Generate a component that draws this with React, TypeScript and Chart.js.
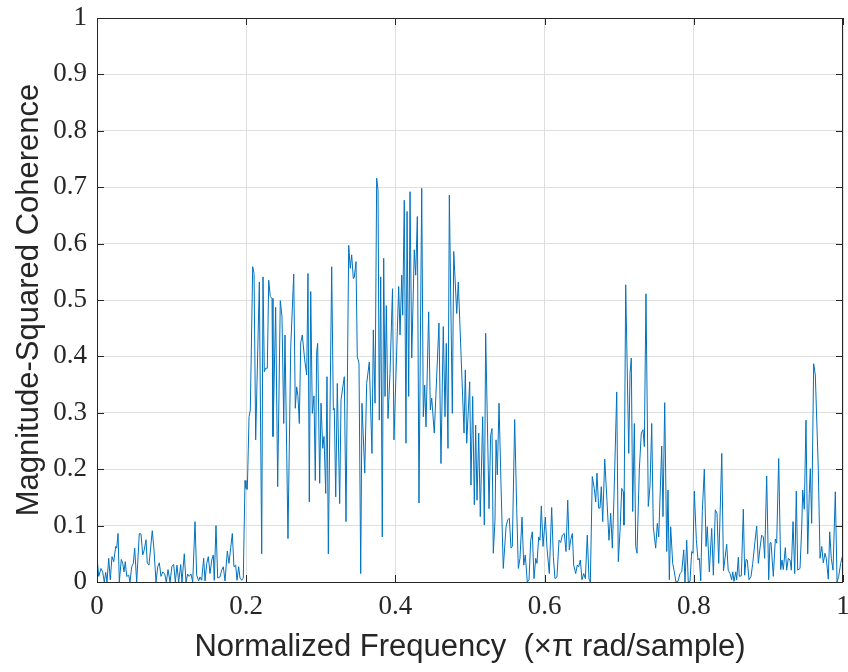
import React, { useEffect, useRef } from "react";
import { Chart, registerables } from "chart.js";

Chart.register(...registerables);

// Normalized frequency (x pi rad/sample) of each vertex of the trace
const freq: number[] = [
  0.0000, 0.0023, 0.0054, 0.0076, 0.0098, 0.0117, 0.0134, 0.0157, 0.0178, 0.0201,
  0.0224, 0.0251, 0.0264, 0.0282, 0.0299, 0.0326, 0.0345, 0.0362, 0.0379, 0.0398,
  0.0425, 0.0442, 0.0465, 0.0487, 0.0505, 0.0532, 0.0567, 0.0590, 0.0613, 0.0634,
  0.0657, 0.0674, 0.0697, 0.0741, 0.0764, 0.0791, 0.0814, 0.0835, 0.0858, 0.0881,
  0.0908, 0.0929, 0.0952, 0.0979, 0.1005, 0.1028, 0.1050, 0.1072, 0.1095, 0.1122,
  0.1139, 0.1170, 0.1193, 0.1216, 0.1237, 0.1260, 0.1283, 0.1314, 0.1336, 0.1363,
  0.1381, 0.1403, 0.1430, 0.1448, 0.1471, 0.1492, 0.1515, 0.1538, 0.1559, 0.1572,
  0.1595, 0.1618, 0.1649, 0.1672, 0.1693, 0.1716, 0.1747, 0.1769, 0.1814, 0.1836,
  0.1859, 0.1877, 0.1899, 0.1917, 0.1940, 0.1961, 0.1984, 0.1997, 0.2015, 0.2038,
  0.2055, 0.2087, 0.2105, 0.2127, 0.2176, 0.2208, 0.2225, 0.2243, 0.2261, 0.2283,
  0.2302, 0.2323, 0.2346, 0.2359, 0.2395, 0.2422, 0.2457, 0.2480, 0.2503, 0.2520,
  0.2560, 0.2597, 0.2637, 0.2658, 0.2677, 0.2694, 0.2712, 0.2731, 0.2752, 0.2784,
  0.2811, 0.2828, 0.2846, 0.2865, 0.2886, 0.2909, 0.2926, 0.2945, 0.2958, 0.2985,
  0.3003, 0.3026, 0.3043, 0.3066, 0.3083, 0.3101, 0.3146, 0.3168, 0.3181, 0.3200,
  0.3221, 0.3253, 0.3271, 0.3315, 0.3338, 0.3374, 0.3395, 0.3414, 0.3436, 0.3449,
  0.3472, 0.3489, 0.3512, 0.3535, 0.3552, 0.3589, 0.3615, 0.3650, 0.3686, 0.3704,
  0.3727, 0.3749, 0.3767, 0.3784, 0.3803, 0.3824, 0.3843, 0.3861, 0.3878, 0.3901,
  0.3928, 0.3961, 0.3981, 0.4044, 0.4062, 0.4085, 0.4098, 0.4119, 0.4142, 0.4156,
  0.4178, 0.4196, 0.4219, 0.4253, 0.4272, 0.4294, 0.4316, 0.4353, 0.4374, 0.4393,
  0.4410, 0.4446, 0.4468, 0.4487, 0.4521, 0.4584, 0.4611, 0.4642, 0.4665, 0.4682,
  0.4705, 0.4723, 0.4763, 0.4782, 0.4822, 0.4843, 0.4920, 0.4937, 0.4956, 0.4996,
  0.5013, 0.5036, 0.5058, 0.5076, 0.5094, 0.5117, 0.5138, 0.5170, 0.5192, 0.5210,
  0.5255, 0.5277, 0.5295, 0.5312, 0.5335, 0.5349, 0.5366, 0.5389, 0.5416, 0.5446,
  0.5483, 0.5505, 0.5527, 0.5550, 0.5567, 0.5599, 0.5626, 0.5648, 0.5670, 0.5697,
  0.5720, 0.5741, 0.5768, 0.5791, 0.5814, 0.5835, 0.5858, 0.5881, 0.5898, 0.5921,
  0.5938, 0.5956, 0.5979, 0.6010, 0.6032, 0.6063, 0.6095, 0.6117, 0.6139, 0.6166,
  0.6193, 0.6216, 0.6237, 0.6264, 0.6287, 0.6310, 0.6331, 0.6350, 0.6372, 0.6390,
  0.6417, 0.6438, 0.6457, 0.6479, 0.6501, 0.6524, 0.6546, 0.6572, 0.6595, 0.6613,
  0.6639, 0.6666, 0.6685, 0.6702, 0.6725, 0.6743, 0.6760, 0.6779, 0.6806, 0.6836,
  0.6863, 0.6886, 0.6908, 0.6930, 0.6967, 0.6988, 0.7011, 0.7034, 0.7055, 0.7064,
  0.7087, 0.7128, 0.7145, 0.7162, 0.7181, 0.7203, 0.7221, 0.7239, 0.7270, 0.7296,
  0.7319, 0.7337, 0.7359, 0.7390, 0.7413, 0.7436, 0.7457, 0.7489, 0.7511, 0.7530,
  0.7570, 0.7587, 0.7610, 0.7637, 0.7654, 0.7672, 0.7690, 0.7717, 0.7735, 0.7761,
  0.7788, 0.7815, 0.7838, 0.7865, 0.7882, 0.7905, 0.7926, 0.7949, 0.7972, 0.7989,
  0.8007, 0.8034, 0.8056, 0.8074, 0.8093, 0.8114, 0.8141, 0.8164, 0.8181, 0.8208,
  0.8240, 0.8262, 0.8288, 0.8311, 0.8334, 0.8375, 0.8398, 0.8441, 0.8461, 0.8485,
  0.8508, 0.8522, 0.8539, 0.8562, 0.8575, 0.8597, 0.8610, 0.8637, 0.8664, 0.8682,
  0.8700, 0.8717, 0.8740, 0.8767, 0.8790, 0.8820, 0.8843, 0.8865, 0.8887, 0.8910,
  0.8932, 0.8950, 0.8977, 0.9004, 0.9021, 0.9035, 0.9066, 0.9093, 0.9111, 0.9138,
  0.9165, 0.9182, 0.9200, 0.9227, 0.9245, 0.9267, 0.9290, 0.9307, 0.9330, 0.9353,
  0.9374, 0.9393, 0.9424, 0.9447, 0.9460, 0.9481, 0.9504, 0.9527, 0.9548, 0.9562,
  0.9580, 0.9607, 0.9629, 0.9669, 0.9692, 0.9715, 0.9736, 0.9759, 0.9776, 0.9803,
  0.9822, 0.9843, 0.9866, 0.9897, 0.9920, 0.9942, 0.9969, 1.0000,
];

// Magnitude-squared coherence at each of those frequencies
const coherence: number[] = [
  0.045, 0.010, 0.024, 0.018, 0.000, 0.017, 0.000, 0.042, 0.004, 0.045,
  0.036, 0.063, 0.060, 0.086, 0.000, 0.040, 0.033, 0.018, 0.036, 0.010,
  0.012, 0.000, 0.027, 0.033, 0.060, 0.000, 0.086, 0.085, 0.048, 0.057,
  0.075, 0.033, 0.030, 0.091, 0.057, 0.000, 0.027, 0.034, 0.010, 0.018,
  0.014, 0.000, 0.022, 0.000, 0.028, 0.031, 0.000, 0.030, 0.000, 0.031,
  0.000, 0.050, 0.000, 0.014, 0.010, 0.014, 0.000, 0.107, 0.012, 0.002,
  0.009, 0.003, 0.042, 0.002, 0.033, 0.045, 0.015, 0.039, 0.048, 0.003,
  0.100, 0.007, 0.009, 0.021, 0.027, 0.002, 0.055, 0.033, 0.086, 0.027,
  0.030, 0.003, 0.027, 0.007, 0.003, 0.007, 0.180, 0.166, 0.164, 0.293,
  0.305, 0.559, 0.547, 0.252, 0.532, 0.050, 0.541, 0.373, 0.379, 0.379,
  0.535, 0.506, 0.503, 0.258, 0.487, 0.169, 0.499, 0.470, 0.281, 0.438,
  0.077, 0.417, 0.546, 0.308, 0.346, 0.329, 0.281, 0.424, 0.438, 0.394,
  0.367, 0.547, 0.142, 0.515, 0.299, 0.330, 0.180, 0.408, 0.423, 0.175,
  0.317, 0.237, 0.258, 0.157, 0.364, 0.050, 0.559, 0.305, 0.308, 0.151,
  0.352, 0.139, 0.323, 0.364, 0.107, 0.597, 0.556, 0.580, 0.538, 0.540,
  0.568, 0.400, 0.388, 0.015, 0.317, 0.193, 0.352, 0.390, 0.228, 0.447,
  0.317, 0.716, 0.695, 0.287, 0.541, 0.080, 0.574, 0.329, 0.490, 0.290,
  0.370, 0.520, 0.252, 0.524, 0.438, 0.544, 0.473, 0.677, 0.246, 0.657,
  0.329, 0.692, 0.397, 0.589, 0.544, 0.648, 0.140, 0.698, 0.293, 0.349,
  0.275, 0.479, 0.305, 0.326, 0.264, 0.459, 0.210, 0.453, 0.293, 0.423,
  0.237, 0.686, 0.299, 0.586, 0.476, 0.532, 0.264, 0.376, 0.246, 0.355,
  0.172, 0.329, 0.137, 0.278, 0.145, 0.264, 0.116, 0.293, 0.101, 0.441,
  0.130, 0.260, 0.272, 0.051, 0.110, 0.252, 0.190, 0.317, 0.170, 0.024,
  0.098, 0.110, 0.113, 0.060, 0.063, 0.288, 0.130, 0.024, 0.042, 0.115,
  0.030, 0.048, 0.000, 0.004, 0.074, 0.089, 0.006, 0.042, 0.033, 0.080,
  0.074, 0.135, 0.063, 0.115, 0.060, 0.015, 0.132, 0.045, 0.006, 0.009,
  0.074, 0.070, 0.083, 0.086, 0.054, 0.145, 0.057, 0.075, 0.086, 0.030,
  0.015, 0.030, 0.027, 0.039, 0.004, 0.015, 0.006, 0.083, 0.006, 0.000,
  0.187, 0.166, 0.142, 0.193, 0.131, 0.131, 0.169, 0.107, 0.218, 0.145,
  0.074, 0.122, 0.060, 0.150, 0.337, 0.036, 0.090, 0.166, 0.160, 0.101,
  0.527, 0.228, 0.370, 0.397, 0.125, 0.281, 0.063, 0.051, 0.200, 0.264,
  0.270, 0.240, 0.511, 0.134, 0.170, 0.281, 0.098, 0.060, 0.104, 0.080,
  0.241, 0.116, 0.318, 0.054, 0.163, 0.004, 0.098, 0.033, 0.021, 0.000,
  0.001, 0.015, 0.018, 0.057, 0.000, 0.074, 0.000, 0.001, 0.054, 0.051,
  0.161, 0.075, 0.039, 0.042, 0.002, 0.125, 0.200, 0.063, 0.098, 0.018,
  0.095, 0.012, 0.128, 0.122, 0.033, 0.228, 0.020, 0.067, 0.021, 0.015,
  0.004, 0.018, 0.001, 0.018, 0.004, 0.044, 0.010, 0.011, 0.129, 0.012,
  0.040, 0.039, 0.004, 0.010, 0.033, 0.072, 0.099, 0.033, 0.060, 0.083,
  0.080, 0.042, 0.188, 0.004, 0.069, 0.070, 0.010, 0.076, 0.069, 0.219,
  0.022, 0.039, 0.022, 0.061, 0.021, 0.042, 0.039, 0.021, 0.107, 0.015,
  0.161, 0.021, 0.024, 0.098, 0.163, 0.129, 0.287, 0.050, 0.157, 0.201,
  0.104, 0.387, 0.367, 0.200, 0.042, 0.063, 0.034, 0.051, 0.042, 0.005,
  0.089, 0.042, 0.021, 0.160, 0.000, 0.010, 0.033, 0.050,
];

const xTicks = [0, 0.2, 0.4, 0.6, 0.8, 1];
const xTickLabels = ["0", "0.2", "0.4", "0.6", "0.8", "1"];
const yTicks = [0, 0.1, 0.2, 0.3, 0.4, 0.5, 0.6, 0.7, 0.8, 0.9, 1];
const yTickLabels = ["0", "0.1", "0.2", "0.3", "0.4", "0.5", "0.6", "0.7", "0.8", "0.9", "1"];

const xTitle = "Normalized Frequency  (\u00d7\u03c0 rad/sample)";
const yTitle = "Magnitude-Squared Coherence";

const AXIS_COLOR = "#262626";
const GRID_COLOR = "#dfdfdf";
const LINE_COLOR = "#0072BD";
const TICK_FONT = "'Liberation Serif', 'DejaVu Serif', serif";
const TITLE_FONT = "'Liberation Sans', Arial, sans-serif";

const boxPlugin = {
  id: "matlabBox",
  afterDatasetsDraw(chart: any) {
    const { ctx, chartArea } = chart;
    const { left, right, top, bottom } = chartArea;
    const xs = chart.scales.x;
    const ys = chart.scales.y;
    const tl = 7;
    ctx.save();
    ctx.strokeStyle = AXIS_COLOR;
    ctx.lineWidth = 1;
    ctx.beginPath();
    ctx.rect(Math.round(left) + 0.5, Math.round(top) + 0.5, Math.round(right - left) - 1, Math.round(bottom - top));
    xTicks.forEach((t) => {
      const px = Math.round(xs.getPixelForValue(t)) + 0.5;
      ctx.moveTo(px, bottom);
      ctx.lineTo(px, bottom - tl);
      ctx.moveTo(px, top);
      ctx.lineTo(px, top + tl);
    });
    yTicks.forEach((t) => {
      const py = Math.round(ys.getPixelForValue(t)) + 0.5;
      ctx.moveTo(left, py);
      ctx.lineTo(left + tl, py);
      ctx.moveTo(right, py);
      ctx.lineTo(right - tl, py);
    });
    ctx.stroke();
    ctx.restore();
  },
};

export default function App() {
  const canvasRef = useRef<HTMLCanvasElement | null>(null);

  useEffect(() => {
    if (!canvasRef.current) return;
    const points = freq.map((f, i) => ({ x: f, y: coherence[i] }));
    const chart = new Chart(canvasRef.current, {
      type: "line",
      data: {
        datasets: [
          {
            data: points,
            borderColor: LINE_COLOR,
            borderWidth: 1,
            pointRadius: 0,
            tension: 0,
            fill: false,
          },
        ],
      },
      options: {
        animation: false,
        responsive: false,
        devicePixelRatio: 1,
        layout: { padding: { top: 18, right: 5, bottom: 0, left: 0 } },
        plugins: {
          legend: { display: false },
          tooltip: { enabled: false },
        },
        scales: {
          x: {
            type: "linear",
            min: 0,
            max: 1,
            afterBuildTicks: (s: any) => {
              s.ticks = xTicks.map((v) => ({ value: v }));
            },
            afterFit: (s: any) => {
              s.height = 90;
              s.paddingLeft = 0;
              s.paddingRight = 0;
            },
            grid: { color: GRID_COLOR, lineWidth: 1, drawTicks: false },
            border: { display: false },
            ticks: {
              padding: 9,
              maxRotation: 0,
              autoSkip: false,
              color: AXIS_COLOR,
              font: { family: TICK_FONT, size: 27 },
              callback: (_v: any, i: number) => xTickLabels[i],
            },
            title: {
              display: true,
              text: xTitle,
              color: AXIS_COLOR,
              font: { family: TITLE_FONT, size: 31 },
              padding: { top: 0, bottom: 6 },
            },
          },
          y: {
            type: "linear",
            min: 0,
            max: 1,
            afterBuildTicks: (s: any) => {
              s.ticks = yTicks.map((v) => ({ value: v }));
            },
            afterFit: (s: any) => {
              s.width = 97;
              s.paddingTop = 0;
              s.paddingBottom = 0;
            },
            grid: { color: GRID_COLOR, lineWidth: 1, drawTicks: false },
            border: { display: false },
            ticks: {
              padding: 10,
              autoSkip: false,
              color: AXIS_COLOR,
              font: { family: TICK_FONT, size: 27 },
              callback: (_v: any, i: number) => yTickLabels[i],
            },
            title: {
              display: true,
              text: yTitle,
              color: AXIS_COLOR,
              font: { family: TITLE_FONT, size: 31 },
              padding: { top: 11, bottom: 0 },
            },
          },
        },
      },
      plugins: [boxPlugin],
    });
    return () => chart.destroy();
  }, []);

  return (
    <div style={{ position: "absolute", left: 0, top: 0, width: 848, height: 672, background: "#ffffff" }}>
      <canvas ref={canvasRef} width={848} height={672} style={{ display: "block" }} />
    </div>
  );
}
